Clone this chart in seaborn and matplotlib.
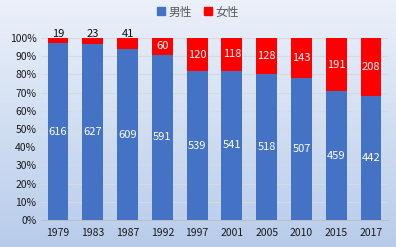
import numpy as np
import pandas as pd
import matplotlib
matplotlib.use("Agg")
import matplotlib.pyplot as plt
import seaborn as sns

years = ["1979", "1983", "1987", "1992", "1997", "2001", "2005", "2010", "2015", "2017"]
male = [616, 627, 609, 591, 539, 541, 518, 507, 459, 442]
female = [19, 23, 41, 60, 120, 118, 128, 143, 191, 208]
series_names = ["男性", "女性"]
colors = ["#4472C4", "#FF0000"]

sns.set_theme(style="white")
plt.rcParams['font.family'] = ['Noto Sans CJK JP', 'DejaVu Sans']

total = np.array(male) + np.array(female)
male_pct = np.array(male) / total * 100
female_pct = np.array(female) / total * 100
df = pd.DataFrame({"year": years, "male": male_pct, "total": np.full(len(years), 100.0)})

fig = plt.figure(figsize=(3.96, 2.47), dpi=100)
# gradient background
bg = fig.add_axes([0, 0, 1, 1], zorder=-10)
grad = np.linspace(0, 1, 256)[:, None]
top = np.array([0.925, 0.945, 0.98])
bot = np.array([0.72, 0.80, 0.92])
img = top[None, None, :] * (1 - grad[:, :, None]) + bot[None, None, :] * grad[:, :, None]
bg.imshow(img, aspect="auto", extent=[0, 1, 0, 1])
bg.axis("off")

ax = fig.add_axes([40.6 / 396, 1 - 220 / 247, (388.4 - 40.6) / 396, (220 - 38) / 247])
ax.patch.set_alpha(0)
sns.barplot(data=df, x="year", y="total", color=colors[1], width=0.6, ax=ax,
            saturation=1, zorder=2, linewidth=0, edgecolor="none")
sns.barplot(data=df, x="year", y="male", color=colors[0], width=0.6, ax=ax,
            saturation=1, zorder=3, linewidth=0, edgecolor="none")

ax.set_ylim(0, 100)
ax.set_xlim(-0.5, len(years) - 0.5)
ax.set_yticks(np.arange(0, 101, 10))
ax.set_yticklabels([f"{v}%" for v in range(0, 101, 10)])
ax.yaxis.grid(True, color="#D9D9D9", linewidth=0.8, zorder=0)
ax.set_axisbelow(True)
for s in ["top", "right", "left"]:
    ax.spines[s].set_visible(False)
ax.spines["bottom"].set_color("#BFBFBF")
ax.spines["bottom"].set_linewidth(0.8)
ax.set_xlabel("")
ax.set_ylabel("")
ax.tick_params(axis="both", length=0, labelsize=7.5, colors="#1a1a1a")
ax.tick_params(axis="x", pad=6)
ax.tick_params(axis="y", pad=3)

for i in range(len(years)):
    ax.text(i, male_pct[i] / 2, str(male[i]), ha="center", va="center",
            color="white", fontsize=8, zorder=5)
    if female[i] < 50:
        ax.text(i, 99.5, str(female[i]), ha="center", va="bottom",
                color="#111111", fontsize=8, zorder=5)
    else:
        ax.text(i, male_pct[i] + female_pct[i] / 2, str(female[i]), ha="center", va="center",
                color="white", fontsize=8, zorder=5)

from matplotlib.patches import Patch
handles = [Patch(color=c) for c in colors]
fig.legend(handles, series_names, loc="center", bbox_to_anchor=(0.5, 1 - 12 / 247),
           ncol=2, frameon=False, fontsize=8.5, handlelength=0.7, handleheight=0.7,
           handletextpad=0.3, columnspacing=1.0, labelcolor="#595959")

fig.savefig("out.png", dpi=100)
